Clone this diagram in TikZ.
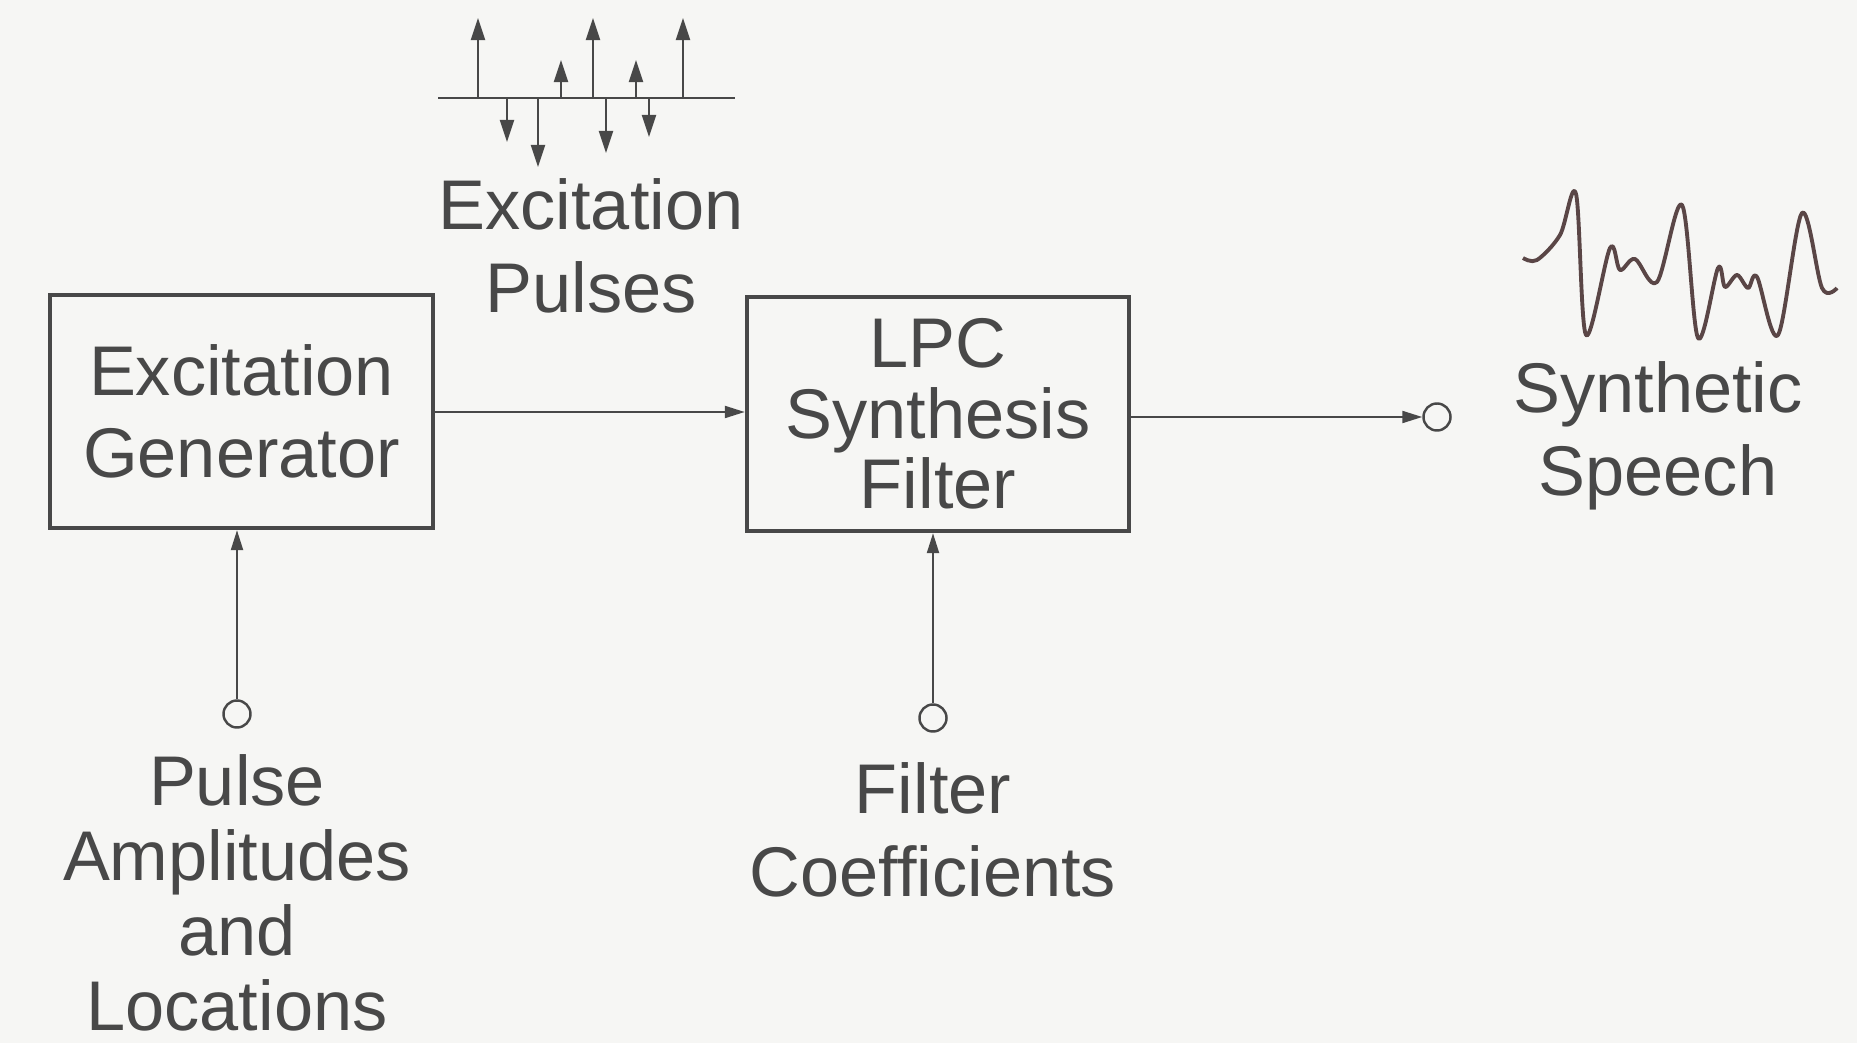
\documentclass[tikz,border=0pt]{standalone}
\usepackage{fontspec}
\setmainfont{Liberation Sans}
\usetikzlibrary{arrows.meta}
\definecolor{ink}{HTML}{484848}
\definecolor{wave}{HTML}{5A4646}
\definecolor{bg}{HTML}{F6F6F4}
\begin{document}
\begin{tikzpicture}[x=0.01cm,y=-0.01cm,
  lbl/.style={text=ink,align=center,inner sep=0pt,font=\fontsize{20}{23.5}\selectfont},
  blk/.style={draw=ink,line width=1.2pt,inner sep=0pt,text=ink,align=center,font=\fontsize{20}{23.5}\selectfont},
  port/.style={circle,draw=ink,line width=0.7pt,minimum size=0.27cm,inner sep=0pt},
  conn/.style={draw=ink,line width=0.6pt,-{Triangle[width=0.12cm,length=0.2cm]}},
  pulse/.style={draw=ink,line width=0.6pt,-{Triangle[width=0.14cm,length=0.22cm]}}]
\fill[bg] (0,0) rectangle (1857,1043);
\useasboundingbox (0,0) rectangle (1857,1043);
% blocks
\node[blk,minimum width=3.83cm,minimum height=2.33cm] (gen) at (241.5,411.5) {Excitation\\Generator};
\node[blk,minimum width=3.82cm,minimum height=2.34cm,font=\fontsize{20}{20}\selectfont] (lpc) at (938,414) {LPC\\Synthesis\\Filter};
% ports
\node[port] (pin) at (237,714) {};
\node[port] (fin) at (933,718) {};
\node[port] (out) at (1437,417) {};
% labels
\node[lbl] (exlbl) at (591,246) {Excitation\\Pulses};
\node[lbl] (synlbl) at (1658,436) {Synthetic\\Speech};
\node[lbl] (flbl) at (933,830) {Filter\\Coefficients};
\node[lbl,font=\fontsize{20}{21.3}\selectfont] (plbl) at (237,893) {Pulse\\Amplitudes\\and\\Locations};
% connectors
\draw[conn] (gen.east |- 0,412) -- (lpc.west |- 0,412);
\draw[conn] (lpc.east |- out) -- (out.west);
\draw[conn] (pin.north) -- (pin.north |- gen.south);
\draw[conn] (fin.north) -- (fin.north |- lpc.south);
% pulse train
\draw[draw=ink,line width=0.6pt] (438,98) -- (735,98);
\foreach \x/\y in {478/18,507/142,538/167,561/60,593/18,606/153,636/60,649/137,683/18}
  \draw[pulse] (\x,98) -- (\x,\y);
% waveform
\draw[wave,line width=1.1pt,line join=round] plot[smooth,tension=0.55] coordinates {
 (1523,258) (1537,260) (1560,235) (1576,194) (1586,335) (1610,248) (1620,270) (1635,259)
 (1657,282) (1682,205) (1698,338) (1718,268) (1725,287) (1737,275) (1748,288) (1757,277)
 (1778,335) (1802,213) (1822,288) (1837,288)};
\end{tikzpicture}
\end{document}
